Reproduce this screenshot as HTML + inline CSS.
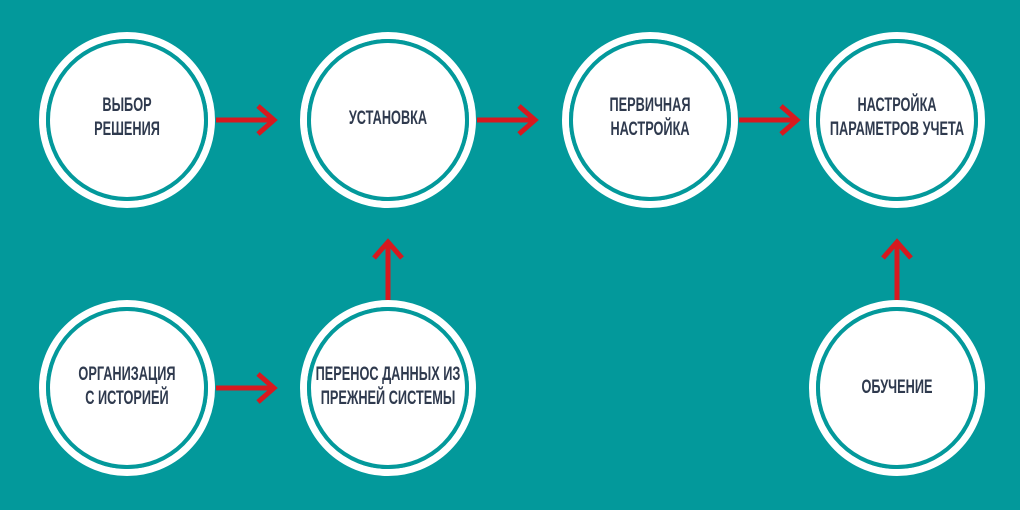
<!DOCTYPE html>
<html><head><meta charset="utf-8"><style>
body{margin:0;width:1020px;height:510px;background:#03999b;position:relative;overflow:hidden}
svg{position:absolute;left:0;top:0}
.t{position:absolute;width:240px;text-align:center;font-family:"Liberation Sans",sans-serif;font-weight:bold;font-size:19px;line-height:24px;color:#2f3a4e;transform:translate(-50%,-50%) scaleX(0.67);white-space:nowrap}
</style></head><body>
<svg width="1020" height="510">
<defs>
<g id="c"><circle r="84.5" fill="none" stroke="#fff" stroke-width="7"/><circle r="79" fill="none" stroke="#03999b" stroke-width="4"/><circle r="77" fill="#fff"/></g>
</defs>
<use href="#c" x="127" y="120"/><use href="#c" x="388" y="120"/><use href="#c" x="650" y="120"/><use href="#c" x="897" y="120"/>
<use href="#c" x="127" y="388"/><use href="#c" x="388" y="388"/><use href="#c" x="897" y="388"/>
<g stroke="#d7191f" stroke-width="5" fill="none">
<path d="M216 120H274M258 106L274 120L258 134"/>
<path d="M477 120H535M519 106L535 120L519 134"/>
<path d="M739 120H797M781 106L797 120L781 134"/>
<path d="M216 388H274M258 374L274 388L258 402"/>
<path d="M388 300V242M374 258L388 242L402 258"/>
<path d="M897 300V242M883 258L897 242L911 258"/>
</g>
</svg>
<div class="t" style="left:127px;top:118px">ВЫБОР<br>РЕШЕНИЯ</div>
<div class="t" style="left:388px;top:119px">УСТАНОВКА</div>
<div class="t" style="left:650px;top:118px">ПЕРВИЧНАЯ<br>НАСТРОЙКА</div>
<div class="t" style="left:897px;top:118px">НАСТРОЙКА<br>ПАРАМЕТРОВ УЧЕТА</div>
<div class="t" style="left:127px;top:387px">ОРГАНИЗАЦИЯ<br>С ИСТОРИЕЙ</div>
<div class="t" style="left:388px;top:387px">ПЕРЕНОС ДАННЫХ ИЗ<br>ПРЕЖНЕЙ СИСТЕМЫ</div>
<div class="t" style="left:897px;top:388px">ОБУЧЕНИЕ</div>
</body></html>
